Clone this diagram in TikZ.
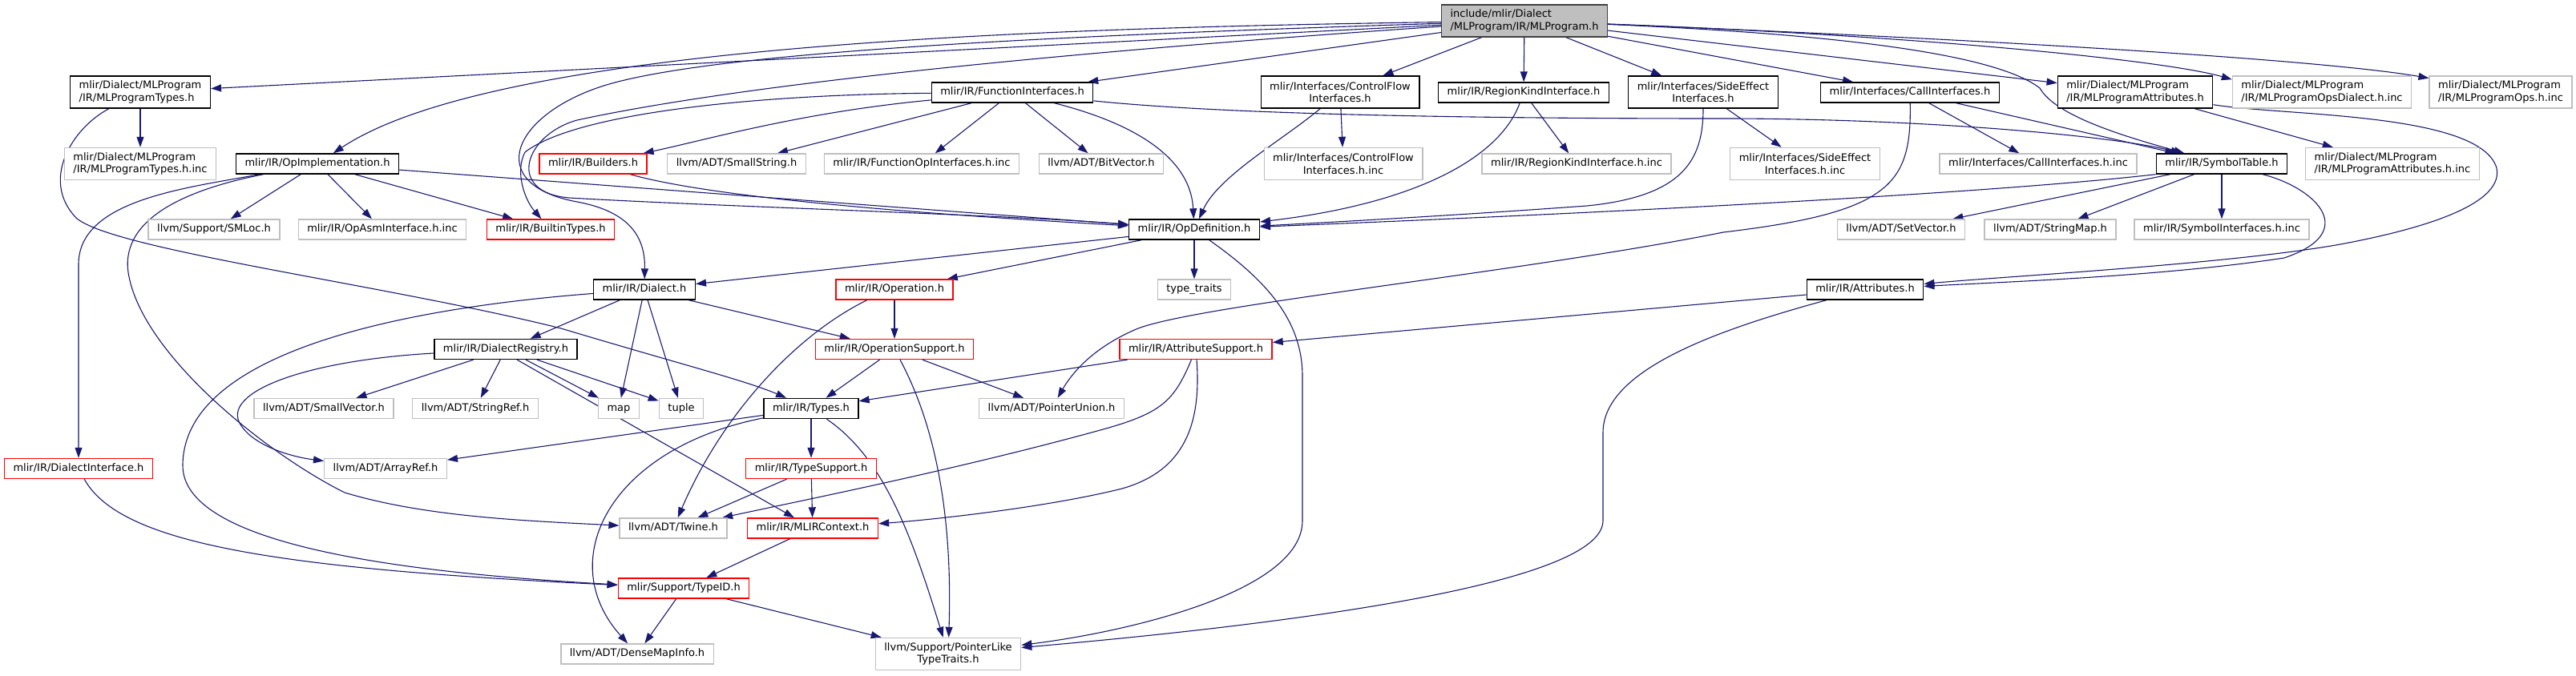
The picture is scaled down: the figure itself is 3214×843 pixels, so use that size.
\documentclass[tikz,border=0pt]{standalone}
\usepackage{fontspec}
\setmainfont{DejaVu Sans}
\usepackage{tikz}
\usetikzlibrary{arrows.meta,backgrounds}

\definecolor{edgeblue}{HTML}{191970}
\definecolor{greyline}{HTML}{BFBFBF}
\definecolor{rootfill}{HTML}{BFBFBF}
\definecolor{rootline}{HTML}{404040}
\definecolor{cutred}{HTML}{FF0000}

\begin{document}
\begin{tikzpicture}[
    x=1pt, y=-1pt,
    hdrbase/.style={rectangle, line width=1.4pt, fill=white, font=\fontsize{13}{15.6}\selectfont, inner xsep=11pt, inner ysep=0pt},
    hdr/.style={hdrbase, minimum height=25pt, text height=9.8pt, text depth=3.2pt},
    hdrtwo/.style={hdrbase, minimum height=40pt},
    docnode/.style={draw=black},
    extnode/.style={draw=greyline},
    cutnode/.style={draw=cutred},
    rootnode/.style={draw=rootline, fill=rootfill},
    arrow/.style={-{Triangle[length=13pt,width=9pt]}, line width=1.1pt, draw=edgeblue}
]
\useasboundingbox (0,0) rectangle (3214,843);

% Root file
\node[hdrtwo, rootnode, align=left] (R) at (1902,26) {include/mlir/Dialect\\/MLProgram/IR/MLProgram.h};

% Direct includes
\node[hdrtwo, docnode, align=left] (mlpt) at (175,115) {mlir/Dialect/MLProgram\\/IR/MLProgramTypes.h};
\node[hdr, docnode] (fi) at (1263,115.5) {mlir/IR/FunctionInterfaces.h};
\node[hdrtwo, docnode, align=center] (cfi) at (1672,115) {mlir/Interfaces/ControlFlow\\Interfaces.h};
\node[hdr, docnode] (rki) at (1901,115.5) {mlir/IR/RegionKindInterface.h};
\node[hdrtwo, docnode, align=center] (sei) at (2125,115) {mlir/Interfaces/SideEffect\\Interfaces.h};
\node[hdr, docnode] (ci) at (2383,115.5) {mlir/Interfaces/CallInterfaces.h};
\node[hdrtwo, docnode, align=left] (mpa) at (2664,115) {mlir/Dialect/MLProgram\\/IR/MLProgramAttributes.h};
\node[hdrtwo, extnode, align=left] (opsd) at (2897,115) {mlir/Dialect/MLProgram\\/IR/MLProgramOpsDialect.h.inc};
\node[hdrtwo, extnode, align=left] (opsinc) at (3120,115) {mlir/Dialect/MLProgram\\/IR/MLProgramOps.h.inc};

% Second row
\node[hdrtwo, extnode, align=left] (mlptinc) at (175,204.5) {mlir/Dialect/MLProgram\\/IR/MLProgramTypes.h.inc};
\node[hdr, docnode] (opimpl) at (396,204.5) {mlir/IR/OpImplementation.h};
\node[hdr, cutnode] (bld) at (740,204.5) {mlir/IR/Builders.h};
\node[hdr, extnode] (sstr) at (919,204.5) {llvm/ADT/SmallString.h};
\node[hdr, extnode] (fiinc) at (1150,204.5) {mlir/IR/FunctionOpInterfaces.h.inc};
\node[hdr, extnode] (bitv) at (1374,204.5) {llvm/ADT/BitVector.h};
\node[hdrtwo, extnode, align=center] (cfiinc) at (1676,204.5) {mlir/Interfaces/ControlFlow\\Interfaces.h.inc};
\node[hdr, extnode] (rkiinc) at (1967,204.5) {mlir/IR/RegionKindInterface.h.inc};
\node[hdrtwo, extnode, align=center] (seiinc) at (2252,204.5) {mlir/Interfaces/SideEffect\\Interfaces.h.inc};
\node[hdr, extnode] (ciinc) at (2543,204.5) {mlir/Interfaces/CallInterfaces.h.inc};
\node[hdr, docnode] (symt) at (2772,204.5) {mlir/IR/SymbolTable.h};
\node[hdrtwo, extnode, align=left] (mpainc) at (2985,204.5) {mlir/Dialect/MLProgram\\/IR/MLProgramAttributes.h.inc};

% Third row
\node[hdr, extnode] (smloc) at (267,286.5) {llvm/Support/SMLoc.h};
\node[hdr, extnode] (asminc) at (477,286.5) {mlir/IR/OpAsmInterface.h.inc};
\node[hdr, cutnode] (btypes) at (687,286.5) {mlir/IR/BuiltinTypes.h};
\node[hdr, docnode] (opdef) at (1490,286.5) {mlir/IR/OpDefinition.h};
\node[hdr, extnode] (setv) at (2372,286.5) {llvm/ADT/SetVector.h};
\node[hdr, extnode] (smap) at (2558,286.5) {llvm/ADT/StringMap.h};
\node[hdr, extnode] (syminc) at (2772,286.5) {mlir/IR/SymbolInterfaces.h.inc};

% Lower rows
\node[hdr, docnode] (dialect) at (804,361.5) {mlir/IR/Dialect.h};
\node[hdr, cutnode] (oper) at (1116,361.5) {mlir/IR/Operation.h};
\node[hdr, extnode] (ttraits) at (1490,361.5) {type\_traits};
\node[hdr, docnode] (attrs) at (2327,361.5) {mlir/IR/Attributes.h};

\node[hdr, docnode] (dreg) at (631,436) {mlir/IR/DialectRegistry.h};
\node[hdr, cutnode] (opsup) at (1116,436) {mlir/IR/OperationSupport.h};
\node[hdr, cutnode] (attrsup) at (1492,436) {mlir/IR/AttributeSupport.h};

\node[hdr, extnode] (svec) at (404,510) {llvm/ADT/SmallVector.h};
\node[hdr, extnode] (sref) at (593,510) {llvm/ADT/StringRef.h};
\node[hdr, extnode] (map) at (772,510) {map};
\node[hdr, extnode] (tuple) at (850,510) {tuple};
\node[hdr, docnode] (types) at (1012,510) {mlir/IR/Types.h};
\node[hdr, extnode] (punion) at (1312,510) {llvm/ADT/PointerUnion.h};

\node[hdr, cutnode] (diface) at (98,585) {mlir/IR/DialectInterface.h};
\node[hdr, extnode] (aref) at (481,585) {llvm/ADT/ArrayRef.h};
\node[hdr, cutnode] (tsup) at (1012,585) {mlir/IR/TypeSupport.h};

\node[hdr, extnode] (twine) at (840,659.5) {llvm/ADT/Twine.h};
\node[hdr, cutnode] (ctx) at (1014,659.5) {mlir/IR/MLIRContext.h};

\node[hdr, cutnode] (tid) at (853,734.5) {mlir/Support/TypeID.h};

\node[hdr, extnode] (dmi) at (795,816.5) {llvm/ADT/DenseMapInfo.h};
\node[hdrtwo, extnode, align=center] (pltt) at (1183,816.5) {llvm/Support/PointerLike\\TypeTraits.h};

\begin{scope}[on background layer]
% from MLProgram.h
\draw[arrow] (R) -- (mlpt);
\draw[arrow] (R) .. controls (1300,35) and (620,55) .. (opimpl);
\draw[arrow] (R) .. controls (1300,45) and (900,65) .. (760,105) .. controls (640,140) and (600,230) .. (720,252) .. controls (790,265) and (805,300) .. (dialect);
\draw[arrow] (R) .. controls (1400,60) and (950,100) .. (720,150) .. controls (655,168) and (630,240) .. (710,247) .. controls (900,258) and (1250,268) .. (opdef);
\draw[arrow] (R) -- (fi);
\draw[arrow] (R) -- (cfi);
\draw[arrow] (R) -- (rki);
\draw[arrow] (R) -- (sei);
\draw[arrow] (R) -- (ci);
\draw[arrow] (R) -- (mpa);
\draw[arrow] (R) .. controls (2400,45) and (2700,75) .. (opsd.172);
\draw[arrow] (R) .. controls (2500,50) and (2900,75) .. (opsinc.169);
\draw[arrow] (R) .. controls (2350,45) and (2500,75) .. (2545,110) .. controls (2565,145) and (2650,170) .. (symt);

% from MLProgramTypes.h
\draw[arrow] (mlpt) -- (mlptinc);
\draw[arrow] (mlpt) .. controls (90,160) and (50,225) .. (95,272) .. controls (140,312) and (480,355) .. (700,410) .. controls (850,455) and (930,475) .. (types);

% from OpImplementation.h
\draw[arrow] (opimpl) -- (smloc);
\draw[arrow] (opimpl) -- (asminc);
\draw[arrow] (opimpl) -- (btypes);
\draw[arrow] (opimpl) -- (opdef);
\draw[arrow] (opimpl) .. controls (230,235) and (98,250) .. (98,330) -- (diface);
\draw[arrow] (opimpl) .. controls (240,235) and (150,270) .. (160,340) .. controls (175,440) and (330,565) .. (430,615) .. controls (530,645) and (650,650) .. (twine);

% from FunctionInterfaces.h
\draw[arrow] (fi) .. controls (1000,140) and (880,175) .. (bld);
\draw[arrow] (fi) -- (sstr);
\draw[arrow] (fi) .. controls (950,118) and (720,140) .. (655,190) .. controls (642,215) and (655,250) .. (btypes);
\draw[arrow] (fi) -- (fiinc);
\draw[arrow] (fi) -- (bitv);
\draw[arrow] (fi) .. controls (1400,150) and (1485,190) .. (opdef);
\draw[arrow] (fi) .. controls (1550,145) and (1900,148) .. (2150,148) .. controls (2400,148) and (2640,170) .. (symt);

% interfaces
\draw[arrow] (cfi) -- (cfiinc);
\draw[arrow] (cfi) .. controls (1600,175) and (1520,220) .. (opdef);
\draw[arrow] (rki) -- (rkiinc);
\draw[arrow] (rki) .. controls (1870,200) and (1760,255) .. (opdef);
\draw[arrow] (sei) -- (seiinc);
\draw[arrow] (sei) .. controls (2125,200) and (2100,245) .. (1980,257) .. controls (1800,270) and (1650,278) .. (opdef);
\draw[arrow] (ci) -- (ciinc);
\draw[arrow] (ci) -- (symt);
\draw[arrow] (ci) .. controls (2385,230) and (2360,265) .. (2150,290) .. controls (1900,340) and (1500,380) .. (1420,410) .. controls (1360,435) and (1335,470) .. (punion);

% from MLProgramAttributes.h
\draw[arrow] (mpa) -- (mpainc);
\draw[arrow] (mpa) .. controls (2850,145) and (3095,140) .. (3115,210) .. controls (3125,260) and (3000,290) .. (2920,305) .. controls (2780,330) and (2500,345) .. (attrs);

% from SymbolTable.h
\draw[arrow] (symt.south west) .. controls (2450,245) and (1900,270) .. (opdef);
\draw[arrow] (symt) -- (setv);
\draw[arrow] (symt) -- (smap);
\draw[arrow] (symt) -- (syminc);
\draw[arrow] (symt) .. controls (2890,235) and (2945,290) .. (2850,322) .. controls (2700,345) and (2500,352) .. (attrs);

% from OpDefinition.h
\draw[arrow] (opdef) -- (dialect);
\draw[arrow] (opdef) -- (oper);
\draw[arrow] (opdef) -- (ttraits);
\draw[arrow] (opdef) .. controls (1580,350) and (1625,400) .. (1625,470) -- (1625,650) .. controls (1625,740) and (1400,790) .. (pltt);

% from Dialect.h
\draw[arrow] (dialect) -- (dreg);
\draw[arrow] (dialect) -- (map);
\draw[arrow] (dialect) -- (tuple);
\draw[arrow] (dialect) -- (opsup);
\draw[arrow] (dialect) .. controls (500,385) and (230,440) .. (228,580) .. controls (226,680) and (500,715) .. (tid);

% from DialectRegistry.h
\draw[arrow] (dreg) -- (svec);
\draw[arrow] (dreg) -- (sref);
\draw[arrow] (dreg) -- (map);
\draw[arrow] (dreg) -- (tuple);
\draw[arrow] (dreg) .. controls (380,450) and (275,490) .. (300,530) .. controls (315,555) and (360,570) .. (aref);
\draw[arrow] (dreg.-43) -- (ctx);

% from Operation.h and OperationSupport.h
\draw[arrow] (oper) -- (opsup);
\draw[arrow] (oper.-159) .. controls (990,420) and (900,520) .. (twine);
\draw[arrow] (opsup) -- (types);
\draw[arrow] (opsup) -- (punion);
\draw[arrow] (opsup) .. controls (1150,500) and (1190,600) .. (pltt);

% from AttributeSupport.h and Attributes.h
\draw[arrow] (attrsup) -- (types);
\draw[arrow] (attrsup) .. controls (1465,500) and (1450,515) .. (1380,535) .. controls (1200,585) and (1000,625) .. (twine);
\draw[arrow] (attrsup) .. controls (1500,540) and (1470,590) .. (1400,610) .. controls (1300,635) and (1150,650) .. (ctx);
\draw[arrow] (attrs) -- (attrsup);
\draw[arrow] (attrs) .. controls (2150,410) and (2000,460) .. (2000,540) -- (2000,650) .. controls (2000,730) and (1600,780) .. (pltt);

% from Types.h
\draw[arrow] (types) -- (aref);
\draw[arrow] (types) -- (tsup);
\draw[arrow] (types) .. controls (760,560) and (690,700) .. (dmi);
\draw[arrow] (types) .. controls (1100,570) and (1135,660) .. (pltt);

% bottom of the graph
\draw[arrow] (tsup) -- (twine);
\draw[arrow] (tsup) -- (ctx);
\draw[arrow] (ctx) -- (tid);
\draw[arrow] (tid) -- (dmi);
\draw[arrow] (tid) -- (pltt);
\draw[arrow] (diface) .. controls (150,680) and (350,710) .. (tid);
\draw[arrow] (bld) .. controls (900,250) and (1200,270) .. (opdef);
\end{scope}

\end{tikzpicture}
\end{document}
